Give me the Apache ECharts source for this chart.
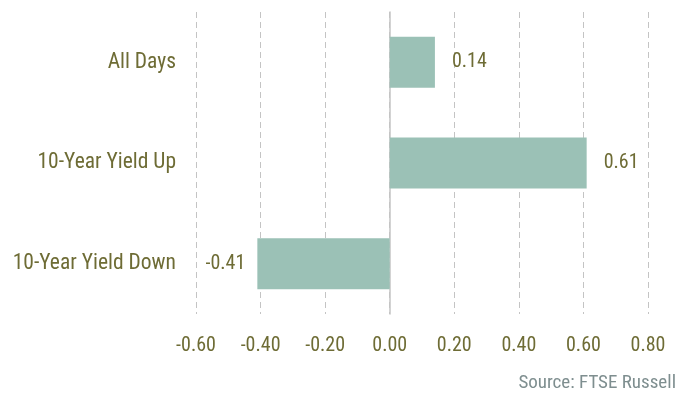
<!DOCTYPE html>
<html>
<head>
  <meta charset="UTF-8">
  <title>10-Year Yield</title>
  <style>
    html, body { margin: 0; padding: 0; background: #fff; }
    #main { width: 678px; height: 395px; }
  </style>
</head>
<body>
<div id="main"></div>
<script src="https://cdn.jsdelivr.net/npm/echarts@6/dist/echarts.min.js"></script>
<script>
  // data
  let categories = ['All Days', '10-Year Yield Up', '10-Year Yield Down'];
  let values = [0.14, 0.61, -0.41];

  let font = '"Roboto Condensed", "Roboto", sans-serif';
  let textColor = '#6e6c35';

  let myChart = echarts.init(document.getElementById('main'), null, {renderer: 'canvas'});
  myChart.setOption({
    animation: false,
    textStyle: { fontFamily: font },
    grid: { left: 196, right: 30, top: 12, bottom: 81, containLabel: false },
    graphic: [{
      type: 'text',
      right: 2,
      top: 374,
      style: {
        text: 'Source: FTSE Russell',
        fill: '#7e8e8f',
        font: '19px ' + font,
      }
    }],
    xAxis: {
      type: 'value',
      min: -0.6,
      max: 0.8,
      interval: 0.2,
      axisLine: { show: false },
      axisTick: { show: false },
      axisLabel: {
        color: textColor,
        fontSize: 20,
        margin: 22,
        fontFamily: font,
        formatter: function (v) { return v.toFixed(2); }
      },
      splitLine: {
        show: true,
        lineStyle: { color: '#c4c4c4', type: [6, 4], width: 1 }
      }
    },
    yAxis: {
      type: 'category',
      inverse: true,
      data: categories,
      axisLine: { show: true, onZero: true, lineStyle: { color: '#c4c4c4', width: 1.5 } },
      axisTick: { show: false },
      axisLabel: {
        color: textColor,
        fontSize: 21.5,
        margin: 20,
        fontFamily: font,
      }
    },
    series: [{
      type: 'bar',
      data: values.map(function (v) {
        // negative bar gets its label on the left
        return v < 0 ? { value: v, label: { position: 'left', distance: 12 } } : v;
      }),
      barWidth: 51,
      itemStyle: { color: '#9bc1b6' },
      label: {
        show: true,
        position: 'right',
        distance: 17,
        color: textColor,
        fontSize: 20,
        fontFamily: font,
        formatter: function (p) { return p.value.toFixed(2); }
      }
    }]
  });

  window.addEventListener('resize', function () {
    myChart.resize();
  });
</script>
</body>
</html>
